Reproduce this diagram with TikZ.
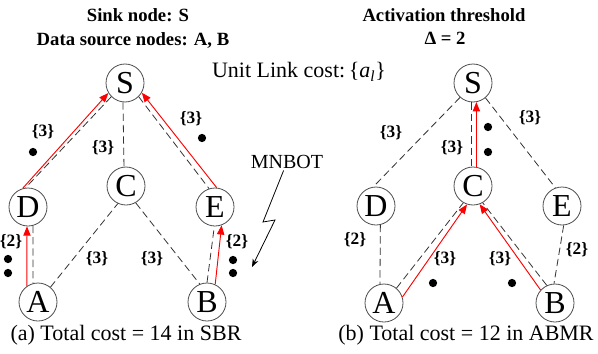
\documentclass[tikz,border=0pt]{standalone}
\usepackage{fontspec}
\setmainfont{Liberation Serif}
\usetikzlibrary{arrows.meta}
\tikzset{every picture/.style={line width=0.6pt}}
\tikzstyle{nd}=[circle,draw=black!70,minimum size=28.5pt,inner sep=0pt,font=\fontsize{24}{24}\selectfont]
\tikzstyle{lnk}=[black!80,dash pattern=on 5.5pt off 3pt]
\tikzstyle{hop}=[red,line width=0.7pt,-{Triangle[length=7pt,width=5.5pt]}]
\tikzstyle{cst}=[inner sep=0pt,font=\fontsize{13}{13}\selectfont\bfseries]
\tikzstyle{ttl}=[inner sep=0pt,font=\fontsize{14}{14}\selectfont\bfseries]
\tikzstyle{txt}=[inner sep=0pt,font=\fontsize{16.5}{16.5}\selectfont]

\begin{document}
\begin{tikzpicture}
  [x=0.75pt,y=-0.75pt]
  \useasboundingbox (0,0) rectangle (598,353);
  % headings
  \node[ttl] (sink) at (138,15) {Sink node: S};
  \node[ttl] (src) at (133,40) {Data source nodes: A, B};
  \node[ttl] (act) at (444,15) {Activation threshold};
  \node[ttl] (delta) at (445,38) {Δ = 2};
  \node[txt] (unit) at (299,72) {Unit Link cost:\,\{\textit{a}\textsubscript{\textit{l}}\}};
  % (a) SBR
  \node[nd] (S1) at (125,83) {S};
  \node[nd] (C1) at (126,186) {C};
  \node[nd] (D1) at (28,207) {D};
  \node[nd] (E1) at (215,207) {E};
  \node[nd] (A1) at (38,302) {A};
  \node[nd] (B1) at (207,302) {B};
\path[lnk]
(S1.225) edge (D1.97)
(S1.264) edge (C1.96)
(S1.315) edge (E1.108)
(D1.285) edge (A1.105)
(A1.50) edge (C1.245)
(C1.300) edge (B1.112)
(B1.90) edge (E1.268);
\path[hop]
(D1.106) edge (S1.211)
(E1.85) edge (S1.330)
(A1.125) edge (D1.267)
(B1.65) edge (E1.290);
  \node[cst] (a1) at (43,132) {\{3\}};
  \node[cst] (a2) at (103,148) {\{3\}};
  \node[cst] (a3) at (191,119) {\{3\}};
  \node[cst] (a4) at (11,242) {\{2\}};
  \node[cst] (a5) at (97,259) {\{3\}};
  \node[cst] (a6) at (152,259) {\{3\}};
  \node[cst] (a7) at (237,242) {\{2\}};
  \foreach \x/\y in {33/152,202/138,8/259,8/273,233/260,233/273}
    \fill (\x,\y) circle (3.1pt);
  \node[txt] (capa) at (126,335) {(a) Total cost = 14 in SBR};
  % MNBOT
  \node[inner sep=1pt,font=\fontsize{15}{15}\selectfont] (bot) at (287,162) {MNBOT};
  \coordinate (z1) at (263,222);
  \coordinate (z2) at (275,220);
  \coordinate (z3) at (252,267);
  \draw[-{Stealth[length=6pt,width=4.5pt]}] (bot) -- (z1) -- (z2) -- (z3);
  % (b) ABMR
  \node[nd] (S2) at (473,83) {S};
  \node[nd] (C2) at (473,186) {C};
  \node[nd] (D2) at (376,206) {D};
  \node[nd] (E2) at (562,206) {E};
  \node[nd] (A2) at (384,303) {A};
  \node[nd] (B2) at (555,303) {B};
\path[lnk]
(S2.228) edge (D2.98)
(S2.265) edge (C2.95)
(S2.310) edge (E2.110)
(D2.283) edge (A2.102)
(A2.50) edge (C2.240)
(B2.115) edge (C2.300)
(E2.275) edge (B2.93);
\path[hop]
(C2.80) edge (S2.280)
(A2.18) edge (C2.252)
(B2.138) edge (C2.290);
  \node[cst] (b1) at (391,133) {\{3\}};
  \node[cst] (b2) at (452,148) {\{3\}};
  \node[cst] (b3) at (530,118) {\{3\}};
  \node[cst] (b4) at (355,240) {\{2\}};
  \node[cst] (b5) at (577,250) {\{2\}};
  \node[cst] (b6) at (445,259) {\{3\}};
  \node[cst] (b7) at (500,259) {\{3\}};
  \foreach \x/\y in {488/127,488/152,433/283,512/283}
    \fill (\x,\y) circle (3.1pt);
  \node[txt] (capb) at (466,335) {(b) Total cost = 12 in ABMR};
\end{tikzpicture}
\end{document}
